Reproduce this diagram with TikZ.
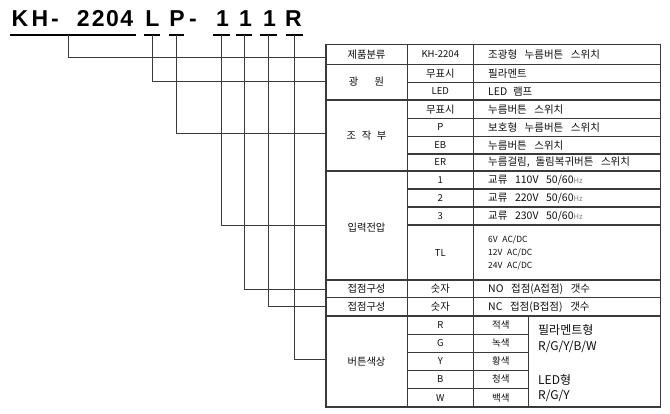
\documentclass[tikz,border=0pt]{standalone}
\usepackage{fontspec}
\setmainfont{Liberation Sans}
\newfontfamily\kr{Noto Sans CJK KR}
\newcommand\gp{\hspace{0.72em}}
\newcommand\gs{\hspace{0.55em}}
\definecolor{ink}{HTML}{101010}
\definecolor{rule}{HTML}{3A3A3A}
\begin{document}
\begin{tikzpicture}[x=1pt,y=-1pt,
  ttl/.style={anchor=base,inner sep=0pt,font=\fontsize{23}{23}\selectfont\bfseries,text=black},
  bar/.style={line width=2.2pt,black},
  conn/.style={line width=0.9pt,rule},
  grid/.style={line width=1.1pt,rule},
  cc/.style={inner sep=0pt,anchor=center,font=\kr\fontsize{10.3}{12}\selectfont,text=ink},
  cn/.style={inner sep=0pt,anchor=center,font=\kr\fontsize{9.5}{11}\selectfont,text=ink},
  cl/.style={inner sep=0pt,anchor=west,font=\kr\fontsize{10.5}{12}\selectfont,text=ink},
  sm/.style={inner sep=0pt,anchor=west,font=\kr\fontsize{8.5}{10}\selectfont,text=ink},
  big/.style={inner sep=0pt,anchor=west,font=\kr\fontsize{12}{14}\selectfont,text=ink}
]
\useasboundingbox (0,0) rectangle (670,414);
\fill[white] (0,0) rectangle (670,414);

% ---------- title ----------
\node[ttl] (tK) at (20,26.7) {K};
\node[ttl] (tH) at (40,26.7) {H};
\node[ttl] (td1) at (55,26.7) {-};
\node[ttl] (t2a) at (83.3,26.7) {2};
\node[ttl] (t2b) at (98.3,26.7) {2};
\node[ttl] (t0) at (112.5,26.7) {0};
\node[ttl] (t4) at (126.7,26.7) {4};
\node[ttl] (tL) at (152.5,26.7) {L};
\node[ttl] (tP) at (177,26.7) {P};
\node[ttl] (td2) at (193,26.7) {-};
\node[ttl] (t1a) at (222.5,26.7) {1};
\node[ttl] (t1b) at (245.5,26.7) {1};
\node[ttl] (t1c) at (269.5,26.7) {1};
\node[ttl] (tR) at (293.5,26.7) {R};

% underline bars
\draw[bar] (10,34.7) -- (136,34.7);
\draw[bar] (144,34.7) -- (160,34.7);
\draw[bar] (169,34.7) -- (184,34.7);
\draw[bar] (213,34.7) -- (230,34.7);
\draw[bar] (236,34.7) -- (252,34.7);
\draw[bar] (260,34.7) -- (277,34.7);
\draw[bar] (286,34.7) -- (303,34.7);

% connector start coordinates
\coordinate (s1) at (68.7,35);
\coordinate (s2) at (152.3,35);
\coordinate (s3) at (176.3,35);
\coordinate (s4) at (221.7,35);
\coordinate (s5) at (244.3,35);
\coordinate (s6) at (268.3,35);
\coordinate (s7) at (294.3,35);
% connector end coordinates (table left edge)
\coordinate (e1) at (326,57.3);
\coordinate (e2) at (326,81);
\coordinate (e3) at (326,133.3);
\coordinate (e4) at (326,225);
\coordinate (e5) at (326,289);
\coordinate (e6) at (326,306.7);
\coordinate (e7) at (326,359.3);

\draw[conn] (s1) |- (e1);
\draw[conn] (s2) |- (e2);
\draw[conn] (s3) |- (e3);
\draw[conn] (s4) |- (e4);
\draw[conn] (s5) |- (e5);
\draw[conn] (s6) |- (e6);
\draw[conn] (s7) |- (e7);

% ---------- table grid ----------
\def\XL{326}\def\XA{407.3}\def\XB{473.3}\def\XC{528.3}\def\XR{660.7}
\draw[grid] (\XL,44.3) rectangle (\XR,407);
\draw[grid] (\XA,44.3) -- (\XA,407);
\draw[grid] (\XB,44.3) -- (\XB,407);
\draw[grid] (\XC,316) -- (\XC,407);
\foreach \y in {64.3,100,171,280,297.5,316} \draw[grid] (\XL,\y) -- (\XR,\y);
\foreach \y in {82.7,118.3,136.7,154,189,207,225} \draw[grid] (\XA,\y) -- (\XR,\y);
\foreach \y in {334.2,352.4,370.2,388.5} \draw[grid] (\XA,\y) -- (\XC,\y);

% ---------- table texts ----------
\def\CA{366.5}\def\CB{440.3}\def\CT{488}
\newcommand\hz{{\color{gray}\fontsize{7.5}{9}\selectfont Hz}}
\node[cc] (a1) at (\CA,54.3) {제품분류};
\node[cn] (b1) at (\CB,54.3) {KH-2204};
\node[cl] (c1) at (\CT,54.3) {조광형\gp 누름버튼\gp 스위치};

\node[cc] (a2) at (\CA,82) {광\hspace{1.6em}원};
\node[cc] (b2) at (\CB,73.5) {무표시};
\node[cl] (c2) at (\CT,73.5) {필라멘트};
\node[cn] (b3) at (\CB,91.3) {LED};
\node[cl] (c3) at (\CT,91.3) {LED\gs 램프};

\node[cc] (a3) at (\CA,136) {조\hspace{0.55em}작\hspace{0.55em}부};
\node[cc] (b4) at (\CB,109.2) {무표시};
\node[cl] (c4) at (\CT,109.2) {누름버튼\gp 스위치};
\node[cn] (b5) at (\CB,127.5) {P};
\node[cl] (c5) at (\CT,127.5) {보호형\gp 누름버튼\gp 스위치};
\node[cn] (b6) at (\CB,145.3) {EB};
\node[cl] (c6) at (\CT,145.3) {누름버튼\gp 스위치};
\node[cn] (b7) at (\CB,162.5) {ER};
\node[cl] (c7) at (\CT,162.5) {누름걸림,\gs 돌림복귀버튼\gp 스위치};

\node[cc] (a4) at (\CA,228) {입력전압};
\node[cn] (b8) at (\CB,180) {1};
\node[cl] (c8) at (\CT,180) {교류\gp 110V\gp 50/60\hz};
\node[cn] (b9) at (\CB,198) {2};
\node[cl] (c9) at (\CT,198) {교류\gp 220V\gp 50/60\hz};
\node[cn] (b10) at (\CB,216) {3};
\node[cl] (c10) at (\CT,216) {교류\gp 230V\gp 50/60\hz};
\node[cn] (b11) at (\CB,253) {TL};
\node[sm] (c11a) at (\CT,239.5) {6V\gs AC/DC};
\node[sm] (c11b) at (\CT,253) {12V\gs AC/DC};
\node[sm] (c11c) at (\CT,266) {24V\gs AC/DC};

\node[cc] (a5) at (\CA,288.7) {접점구성};
\node[cc] (b12) at (\CB,288.7) {숫자};
\node[cl] (c12) at (\CT,288.7) {NO\gp 접점(A접점)\gp 갯수};
\node[cc] (a6) at (\CA,306.7) {접점구성};
\node[cc] (b13) at (\CB,306.7) {숫자};
\node[cl] (c13) at (\CT,306.7) {NC\gp 접점(B접점)\gp 갯수};

\node[cc] (a7) at (\CA,361.5) {버튼색상};
\def\CD{500.8}
\node[cn] (bR) at (\CB,325) {R};
\node[cn] (cR) at (\CD,325) {적색};
\node[cn] (bG) at (\CB,343.3) {G};
\node[cn] (cG) at (\CD,343.3) {녹색};
\node[cn] (bY) at (\CB,361.3) {Y};
\node[cn] (cY) at (\CD,361.3) {황색};
\node[cn] (bB) at (\CB,379.4) {B};
\node[cn] (cB) at (\CD,379.4) {청색};
\node[cn] (bW) at (\CB,397.7) {W};
\node[cn] (cW) at (\CD,397.7) {백색};

\node[big] (f1) at (538,330) {필라멘트형};
\node[big] (f2) at (538,346.5) {R/G/Y/B/W};
\node[big] (f3) at (538,380) {LED형};
\node[big] (f4) at (538,396) {R/G/Y};
\end{tikzpicture}
\end{document}
